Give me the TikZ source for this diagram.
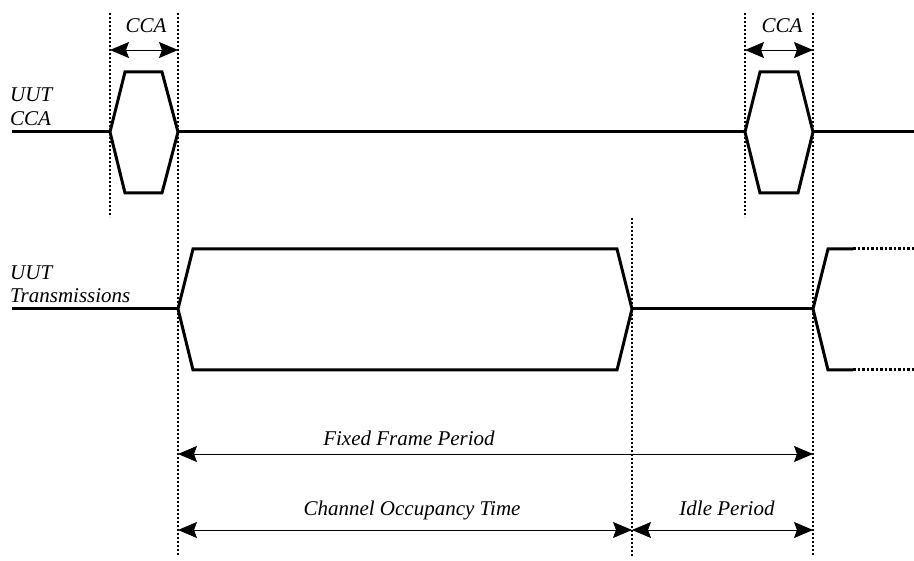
\documentclass[tikz,border=0pt]{standalone}
\usepackage{fontspec}
\setmainfont{Liberation Serif}[ItalicFont={Liberation Serif Italic}]
\usetikzlibrary{arrows.meta}
\begin{document}
\begin{tikzpicture}[x=1pt,y=-1pt,
  wave/.style={line width=3pt,line join=miter},
  guide/.style={line width=1.3pt,dash pattern=on 2pt off 2pt},
  dimarrow/.style={line width=0.8pt,{Stealth[length=19pt,width=16pt,inset=3pt]}-{Stealth[length=19pt,width=16pt,inset=3pt]}},
  lbl/.style={inner sep=0pt,font=\fontsize{21}{23}\selectfont\itshape}]
\useasboundingbox (0,0) rectangle (914,561);
% guide lines
\coordinate (g1t) at (110,13); \coordinate (g1b) at (110,217);
\coordinate (g2t) at (178,13); \coordinate (g2b) at (178,556);
\coordinate (g3t) at (632,218); \coordinate (g3b) at (632,556);
\coordinate (g4t) at (745,13); \coordinate (g4b) at (745,217);
\coordinate (g5t) at (813,13); \coordinate (g5b) at (813,556);
\draw[guide] (g1t) -- (g1b);
\draw[guide] (g2t) -- (g2b);
\draw[guide] (g3t) -- (g3b);
\draw[guide] (g4t) -- (g4b);
\draw[guide] (g5t) -- (g5b);
% labels left
\node[lbl,anchor=base west] (l1) at (10,102) {UUT};
\node[lbl,anchor=base west] (l2) at (10,126) {CCA};
\node[lbl,anchor=base west] (l3) at (10,280) {UUT};
\node[lbl,anchor=base west] (l4) at (10,303) {Transmissions};
% CCA row waveform
\coordinate (a0) at (12,132);
\coordinate (a1) at (110,132);
\coordinate (a2) at (178,132);
\coordinate (a3) at (745,132);
\coordinate (a4) at (813,132);
\coordinate (a5) at (914,132);
\draw[wave] (a0) -- (a1);
\draw[wave] (a1) -- (125,72) -- (162,72) -- (a2) -- (162,193) -- (125,193) -- cycle;
\draw[wave] (a2) -- (a3);
\draw[wave] (a3) -- (760,72) -- (798,72) -- (a4) -- (798,193) -- (760,193) -- cycle;
\draw[wave] (a4) -- (a5);
% Transmissions row waveform
\coordinate (b0) at (12,309);
\coordinate (b1) at (178,309);
\coordinate (b2) at (632,309);
\coordinate (b3) at (813,309);
\draw[wave] (b0) -- (b1);
\draw[wave] (b1) -- (193,249) -- (617,249) -- (b2) -- (617,370) -- (193,370) -- cycle;
\draw[wave] (b2) -- (b3);
\draw[wave] (853,249) -- (828,249) -- (b3) -- (828,370) -- (853,370);
\coordinate (t1) at (853,249); \coordinate (t1e) at (914,249);
\coordinate (t2) at (853,370); \coordinate (t2e) at (914,370);
\draw[wave,dash pattern=on 2.5pt off 2pt] (t1) -- (t1e);
\draw[wave,dash pattern=on 2.5pt off 2pt] (t2) -- (t2e);
% CCA dimension arrows
\coordinate (c1l) at (110,50); \coordinate (c1r) at (178,50);
\coordinate (c2l) at (745,50); \coordinate (c2r) at (813,50);
\draw[dimarrow] (c1l) -- (c1r);
\draw[dimarrow] (c2l) -- (c2r);
\node[lbl,anchor=base] (cca1) at (146,33) {CCA};
\node[lbl,anchor=base] (cca2) at (782,33) {CCA};
% bottom dimension arrows
\coordinate (f1) at (178,454); \coordinate (f2) at (813,454);
\coordinate (o1) at (178,530); \coordinate (o2) at (632,530); \coordinate (o3) at (813,530);
\draw[dimarrow] (f1) -- (f2);
\draw[dimarrow] (o1) -- (o2);
\draw[dimarrow] (o2) -- (o3);
\node[lbl,anchor=base] (ffp) at (409,446) {Fixed Frame Period};
\node[lbl,anchor=base] (cot) at (412,515) {Channel Occupancy Time};
\node[lbl,anchor=base] (idle) at (727,515) {Idle Period};
\end{tikzpicture}
\end{document}
